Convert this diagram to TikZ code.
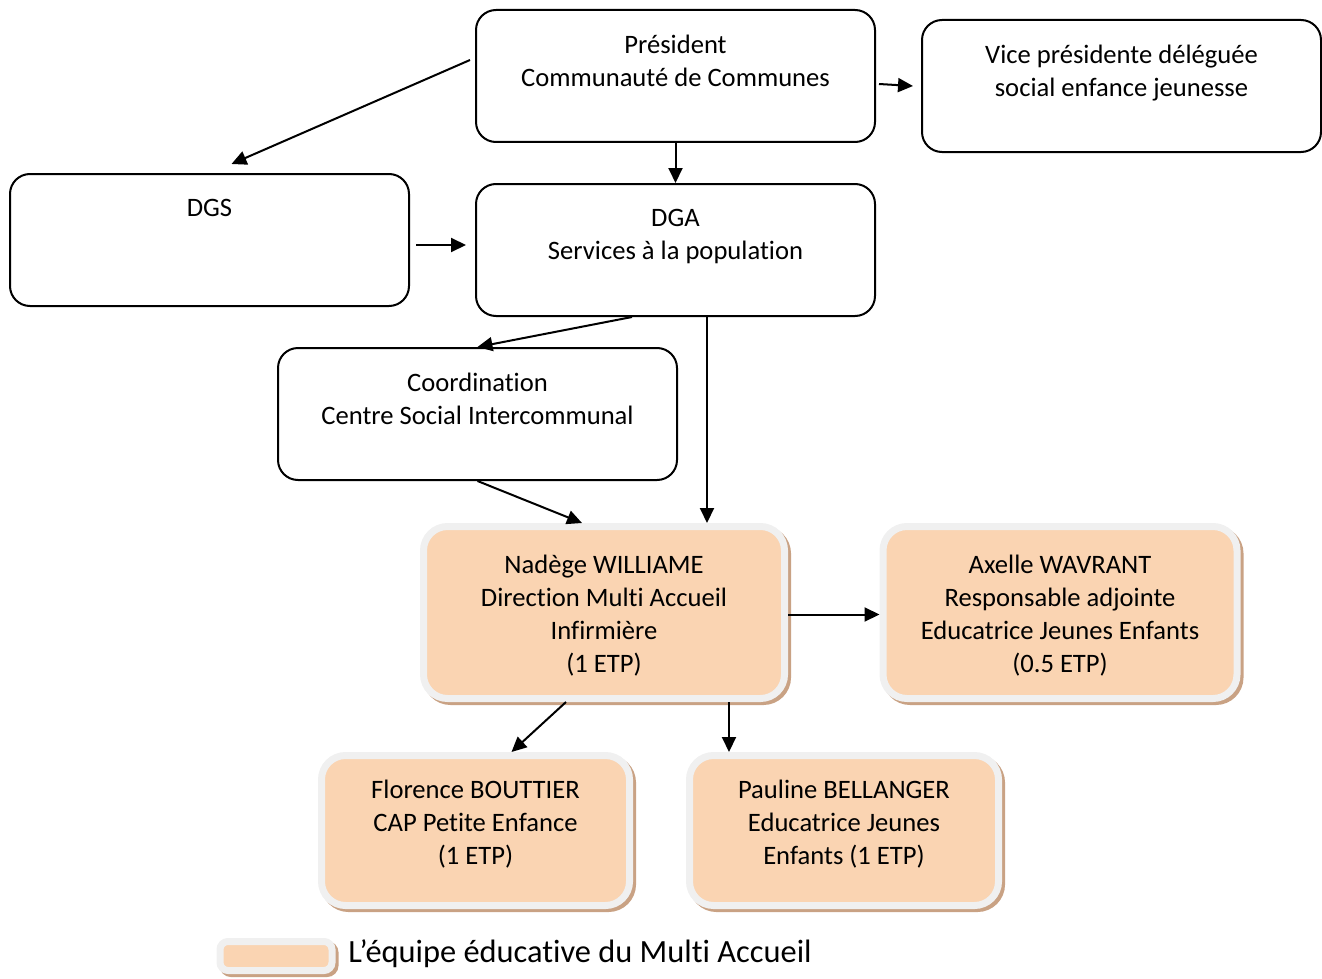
\documentclass[tikz,border=0pt]{standalone}
\usepackage{fontspec}
\setmainfont{Carlito}[Ligatures=NoCommon]
\usetikzlibrary{arrows.meta,shadows}
\definecolor{teamfill}{HTML}{FAD4B2}
\definecolor{teamedge}{HTML}{F0F0F0}
\definecolor{teamshadow}{HTML}{C9A284}
\begin{document}
\begin{tikzpicture}[x=0.5pt, y=-0.5pt,
        every node/.style={font=\fontsize{13.3}{16.5}\selectfont},
        wtext/.style={anchor=north, align=center, inner sep=0pt, yshift=-13pt},
        ttext/.style={anchor=center, align=center, inner sep=0pt},
        wbox/.style={draw=black, line width=1pt, rounded corners=10pt, fill=white,
                     minimum width=199.5pt, minimum height=66pt},
        team/.style={draw=teamedge, line width=3.5pt, fill=teamfill, rounded corners=12pt,
                     general shadow={draw=teamshadow, fill=teamshadow, line width=3.5pt,
                                     shadow xshift=1.5pt, shadow yshift=-1.5pt}},
        arr/.style={-{Triangle[length=7.5pt, width=7pt]}, line width=1pt}]
        \useasboundingbox (0,0) rectangle (1322,979);

        \node[wbox, label={[wtext]north:Président\\Communauté de Communes}](pres) at (675.5,76){};
        \node[wbox, label={[wtext]north:Vice présidente déléguée\\social enfance jeunesse}](vice) at (1121.5,86){};
        \node[wbox, label={[wtext]north:DGS}](dgs) at (209.5,240){};
        \node[wbox, label={[wtext]north:DGA\\Services à la population}](dga) at (675.5,250){};
        \node[wbox, label={[wtext]north:Coordination\\Centre Social Intercommunal}](coord) at (477.5,414){};

        \node[team, minimum width=180.5pt, minimum height=86pt,
              label={[ttext, yshift=-1.5pt]center:Nadège WILLIAME\\Direction Multi Accueil\\Infirmière\\(1 ETP)}](nad) at (604,612.5){};
        \node[team, minimum width=177pt, minimum height=86pt,
              label={[ttext, yshift=-1.5pt]center:Axelle WAVRANT\\Responsable adjointe\\Educatrice Jeunes Enfants\\(0.5 ETP)}](axe) at (1060,612.5){};
        \node[team, minimum width=154pt, minimum height=75pt,
              label={[ttext, yshift=3pt]center:Florence BOUTTIER\\CAP Petite Enfance\\(1 ETP)}](flo) at (475.5,830.5){};
        \node[team, minimum width=154.5pt, minimum height=75pt,
              label={[ttext, yshift=3pt]center:Pauline BELLANGER\\Educatrice Jeunes\\Enfants (1 ETP)}](pau) at (844,830.5){};

        % legende
        \node[team, rounded corners=4pt, minimum width=56pt, minimum height=14.5pt](legend) at (276,956){};
        \node(legtext) at (348,954)[anchor=west, inner sep=0pt, font=\fontsize{16.2}{19}\selectfont]{L’équipe éducative du Multi Accueil};

        \draw[arr]([xshift=-2.5pt, yshift=8pt]pres.west) -- ([xshift=11pt, yshift=4.5pt]dgs.north);
        \draw[arr]([xshift=1.5pt, yshift=-4pt]pres.east) -- ([xshift=-4pt]vice.west);
        \draw[arr](pres.south) -- (dga.north);
        \draw[arr]([xshift=3pt, yshift=-2.5pt]dgs.east) -- ([xshift=-4.5pt, yshift=2.5pt]dga.west);
        \draw[arr]([xshift=-21.75pt]dga.south) -- (coord.north);
        \draw[arr]([xshift=15.75pt]dga.south) -- ([xshift=15.75pt]dga.south |- nad.north);
        \draw[arr](coord.south) -- ([xshift=-11pt]nad.north);
        \draw[arr]([yshift=-1pt]nad.east) -- ([yshift=-1pt]nad.east -| axe.west);
        \draw[arr]([xshift=-19pt]nad.south) -- ([xshift=18pt]flo.north);
        \draw[arr]([xshift=62.5pt]nad.south) -- ([xshift=62.5pt]nad.south |- pau.north);

    \end{tikzpicture}
\end{document}
